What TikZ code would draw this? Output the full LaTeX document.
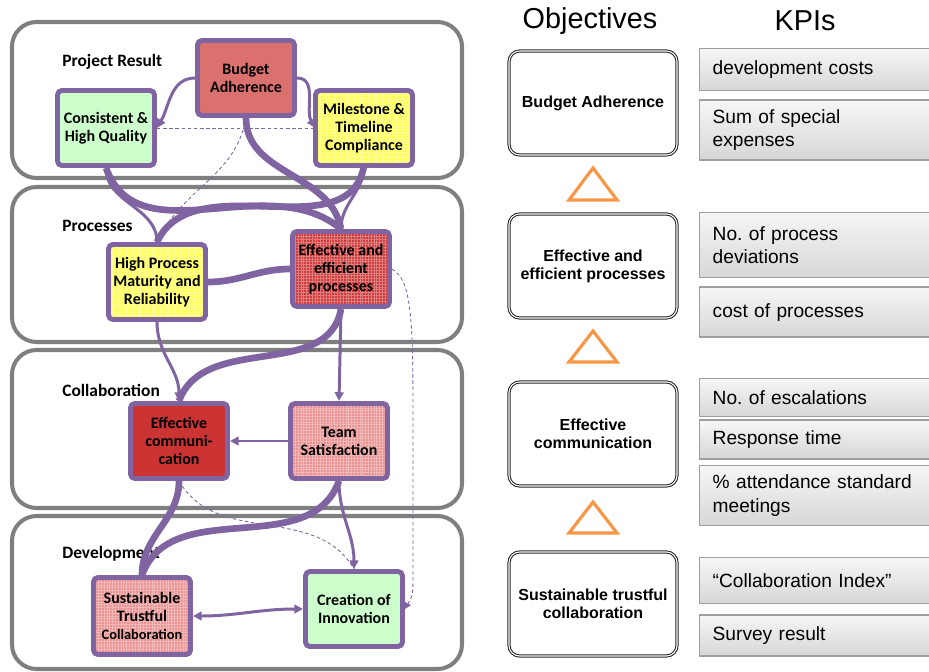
\documentclass[tikz,border=0pt]{standalone}
\usepackage{fontspec}
\setmainfont{Liberation Sans}
\newfontfamily\goalfont{Carlito}
\usepackage{tikz}
\usetikzlibrary{arrows.meta, positioning, patterns.meta}
\definecolor{goalpurple}{RGB}{128,100,162}
\definecolor{zonegray}{RGB}{127,127,127}
\definecolor{budgetred}{RGB}{218,113,111}
\definecolor{deepred}{RGB}{204,51,51}
\definecolor{procred}{RGB}{208,58,58}
\definecolor{pinkred}{RGB}{234,146,146}
\definecolor{mintgreen}{RGB}{204,255,204}
\definecolor{lemon}{RGB}{255,255,90}
\definecolor{triorange}{RGB}{247,150,70}
\frenchspacing

\begin{document}
\begin{tikzpicture}[
  x=0.02cm, y=0.02cm,
  zone/.style={draw=zonegray, line width=2.3pt, rounded corners=14pt},
  zonelabel/.style={anchor=west, inner sep=0pt, font=\goalfont\bfseries\fontsize{9.9}{11}\selectfont},
  goal/.style={draw=goalpurple, line width=2.8pt, rounded corners=2.5pt,
               minimum width=1.94cm, minimum height=1.5cm, inner sep=1pt,
               align=center, font=\goalfont\bfseries\fontsize{9.1}{10.2}\selectfont},
  checked/.style={preaction={fill=#1}, pattern={Hatch[angle=0, distance=1.6pt, line width=0.25pt]},
                  pattern color=white!35!#1},
  link/.style={goalpurple, line width=1.7pt},
  strong/.style={goalpurple, line width=3.8pt},
  hint/.style={goalpurple, line width=0.5pt, dash pattern=on 2pt off 1.5pt},
  tipped/.style={-{Triangle[length=5pt, width=5pt]}},
  smalltip/.style={-{Triangle[length=3.5pt, width=3.5pt]}},
  objective/.style={draw=black!85, line width=0.6pt, double=white, double distance=0.6pt,
                    rounded corners=6pt, minimum width=3.36cm, minimum height=2.08cm,
                    align=center, font=\bfseries\fontsize{9.1}{10.2}\selectfont},
  kpi/.style={draw=gray!75, line width=0.8pt, top color=gray!7, bottom color=gray!32,
              anchor=north west, minimum width=4.72cm, text width=4.2cm,
              inner xsep=0.26cm, inner ysep=0pt, align=left,
              font=\fontsize{10.9}{13.6}\selectfont},
  header/.style={font=\fontsize{16.4}{19}\selectfont},
  upward/.style={draw=triorange, line width=1.8pt},
]
\useasboundingbox (0,0) rectangle (929,-672);
\clip (0,0) rectangle (929,-672);

% four areas of the goal map
\draw[zone] (12,-22) rectangle (462,-178);
\draw[zone] (12,-187) rectangle (462,-342);
\draw[zone] (12,-350) rectangle (462,-508);
\draw[zone] (12,-516) rectangle (462,-669);
\node[zonelabel] (resultlbl) at (62,-62) {Project Result};
\node[zonelabel] (proclbl) at (62,-226) {Processes};
\node[zonelabel] (collablbl) at (62,-390) {Collaboration};
\node[zonelabel] (devlbl) at (62,-554) {Development};

% goals
\node[goal, fill=budgetred] (budget) at (246,-78) {Budget\\Adherence};
\node[goal, fill=mintgreen] (quality) at (106,-128) {Consistent \&\\High Quality};
\node[goal, checked=lemon] (milestone) at (364,-128) {Milestone \&\\Timeline\\Compliance};
\node[goal, checked=lemon] (maturity) at (157,-282) {High Process\\Maturity and\\Reliability};
\node[goal, checked=procred] (processes) at (341,-269) {Effective and\\efficient\\processes};
\node[goal, fill=deepred] (communication) at (179,-441) {Effective\\communi-\\cation};
\node[goal, checked=pinkred] (satisfaction) at (339,-441) {Team\\Satisfaction};
\node[goal, checked=pinkred, minimum height=1.54cm] (trust) at (142,-616)
  {Sustainable\\Trustful\\{\fontsize{8.2}{10}\selectfont Collaboration}};
\node[goal, fill=mintgreen] (innovation) at (354,-609) {Creation of\\Innovation};

% links between the goals
\draw[hint] (quality.east) -- (milestone.west);
\draw[link, tipped] (budget.west) to[out=180, in=60] (quality.east);
\draw[link, tipped] (budget.east) to[out=0, in=120] (milestone.west);
\draw[hint] (budget.south) to[out=-100, in=65] (maturity.north);
\draw[strong] (budget.south) to[out=-90, in=100] (processes.north);
\draw[strong] (quality.south) to[out=-70, in=140] (processes.north);
\draw[link] (quality.south) to[out=-90, in=90] (maturity.north);
\draw[strong] (milestone.south) to[out=-100, in=65] (maturity.north);
\draw[link] (milestone.south) to[out=-90, in=90] (processes.north);
\draw[strong] (maturity.east) to[out=0, in=180] (processes.west);
\draw[link, tipped] (maturity.south) to[out=-90, in=90] (communication.north);
\draw[strong] (processes.south) to[out=-100, in=70] (communication.north);
\draw[link, tipped] (processes.south) -- (satisfaction.north);
\draw[hint, smalltip] (processes.east) .. controls (412,-280) and (413,-320) .. (413,-420)
  -- (413,-570) .. controls (413,-595) .. (innovation.east);
\draw[link, tipped] (satisfaction.west) -- (communication.east);
\draw[strong] (communication.south) to[out=-90, in=90] (trust.north);
\draw[strong] (satisfaction.south) to[out=-110, in=70] (trust.north);
\draw[link, tipped] (satisfaction.south) to[out=-90, in=90] (innovation.north);
\draw[hint] (communication.south) to[out=-60, in=120] (innovation.north);
\draw[link, {Triangle[length=5pt, width=5pt]}-{Triangle[length=5pt, width=5pt]}]
  (trust.east) to[out=0, in=180] (innovation.west);

% objectives and KPIs
\node[header] (objhead) at (590,-21) {Objectives};
\node[header] (kpihead) at (805,-21) {KPIs};
\node[objective] (budgetobj) at (593,-103) {Budget Adherence};
\node[objective] (processobj) at (593,-266) {Effective and\\efficient processes};
\node[objective] (commobj) at (593,-434) {Effective\\communication};
\node[objective] (trustobj) at (593,-604) {Sustainable trustful\\collaboration};
\draw[upward] (569,-200) -- (593,-168) -- (617,-200) -- cycle;
\draw[upward] (569,-362) -- (593,-331) -- (617,-362) -- cycle;
\draw[upward] (569,-533) -- (593,-502) -- (617,-533) -- cycle;

\node[kpi, minimum height=0.84cm] (devcost) at (699,-48) {development costs};
\node[kpi, minimum height=1.2cm, below=0.16cm of devcost] (special) {Sum of special\\expenses};
\node[kpi, minimum height=1.3cm] (deviation) at (699,-212) {No. of process\\deviations};
\node[kpi, minimum height=1cm, below=0.16cm of deviation] (proccost) {cost of processes};
\node[kpi, minimum height=0.76cm] (escalation) at (699,-378) {No. of escalations};
\node[kpi, minimum height=0.78cm, below=0.04cm of escalation] (response) {Response time};
\node[kpi, minimum height=1.2cm, below=0.1cm of response] (attendance) {\% attendance standard\\meetings};
\node[kpi, minimum height=0.92cm] (collabindex) at (699,-557) {“Collaboration Index”};
\node[kpi, minimum height=0.82cm, below=0.2cm of collabindex] (survey) {Survey result};
\end{tikzpicture}
\end{document}
